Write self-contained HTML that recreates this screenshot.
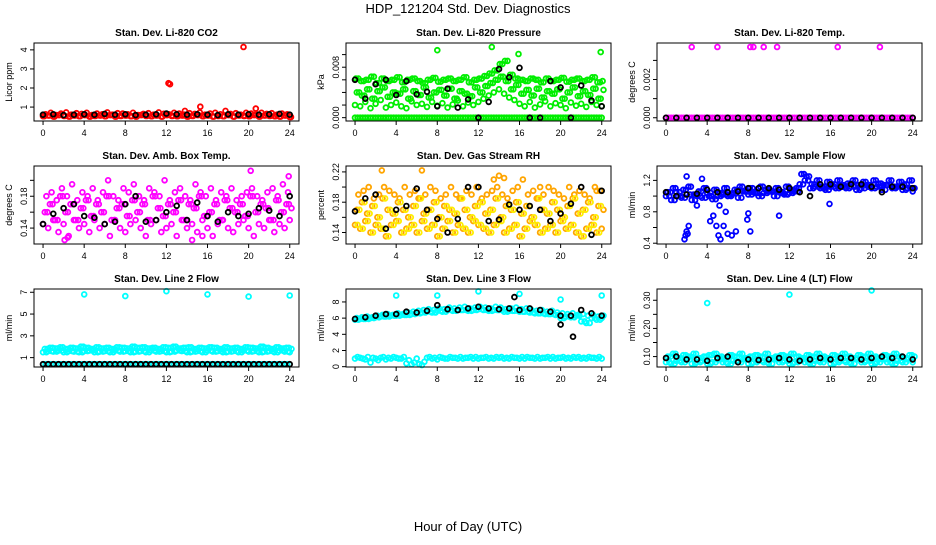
<!DOCTYPE html>
<html><head><meta charset="utf-8">
<style>
html,body{margin:0;padding:0;background:#fff;}
svg text{font-family:"Liberation Sans",sans-serif;}
</style></head>
<body>
<svg id="chart" width="936" height="540" viewBox="0 0 936 540" xmlns="http://www.w3.org/2000/svg">
<text x="468" y="13" text-anchor="middle" font-size="13">HDP_121204  Std. Dev. Diagnostics</text>
<text x="468" y="531" text-anchor="middle" font-size="13">Hour of Day (UTC)</text>
</svg>
<script>
const xTicks=[0,4,8,12,16,20,24];
// CO2
const co2A=[0.62,0.7,0.58,0.66,0.72,0.6,0.68,0.64,0.7,0.58,0.66,0.62,0.72,0.6,0.68,0.66,0.62,0.7,0.58,0.64,0.68,0.6,0.72,0.65,0.62,0.7,0.66,0.6,0.68,0.64,0.72,0.6,0.66,0.7,0.62,0.8,0.64,0.68,0.6,0.7,0.66,0.62,0.7,0.64,0.68,0.6,0.66,0.62,0.58];
const co2B=[0.52,0.56,0.5,0.58,0.54,0.5,0.56,0.52,0.58,0.5,0.54,0.56,0.52,0.58,0.5,0.54,0.56,0.52,0.5,0.58,0.54,0.52,0.56,0.5,0.58,0.54,0.52,0.56,0.5,0.54,0.58,0.52,0.56,0.5,0.54,0.52,0.58,0.5,0.56,0.54,0.52,0.58,0.5,0.56,0.54,0.52,0.5,0.56,0.48];
const co2OutH=[12.2,12.35,15.3,19.5,20.7,13.8];
const co2OutV=[2.25,2.2,1.02,4.15,0.92,0.8];
const co2Black=[0.6,0.62,0.58,0.6,0.62,0.6,0.64,0.6,0.62,0.58,0.6,0.62,0.66,0.62,0.6,0.62,0.6,0.58,0.62,0.6,0.62,0.6,0.62,0.64,0.6];
// Pressure
const presA=[0.0062,0.0058,0.006,0.0065,0.0055,0.0062,0.0058,0.006,0.0064,0.0056,0.006,0.0062,0.0058,0.0055,0.006,0.0063,0.0057,0.006,0.0062,0.0058,0.006,0.0064,0.0056,0.006,0.0062,0.0066,0.007,0.0075,0.0085,0.009,0.0068,0.0062,0.006,0.0058,0.0062,0.006,0.0056,0.0062,0.0058,0.006,0.0063,0.0057,0.006,0.0062,0.0058,0.006,0.0064,0.0056,0.0058];
const presB=[0.004,0.0035,0.0045,0.003,0.0042,0.0048,0.0033,0.004,0.0038,0.0045,0.003,0.0042,0.0036,0.0048,0.0032,0.004,0.0044,0.0035,0.0046,0.003,0.0042,0.0038,0.0034,0.0048,0.004,0.005,0.0055,0.006,0.0065,0.0058,0.0045,0.0052,0.0038,0.0044,0.0035,0.0046,0.0032,0.0042,0.0038,0.0045,0.003,0.004,0.0048,0.0034,0.0042,0.0036,0.0046,0.003,0.0044];
const presC=[0.002,0.0018,0.0025,0.0015,0.0022,0.0028,0.0016,0.002,0.0024,0.0018,0.0015,0.0026,0.002,0.0022,0.0017,0.0025,0.0019,0.0023,0.0016,0.0021,0.0027,0.0018,0.0024,0.002,0.0025,0.003,0.0035,0.004,0.0045,0.0038,0.0032,0.0028,0.0022,0.0018,0.0025,0.0016,0.0021,0.0026,0.0018,0.0023,0.002,0.0015,0.0024,0.0019,0.0022,0.0017,0.0025,0.002,0.0018];
const presZero=[0,0,0,0,0,0,0,0,0,0,0,0,0,0,0,0,0,0,0,0,0,0,0,0,0,0,0,0,0,0,0,0,0,0,0,0,0,0,0,0,0,0,0,0,0,0,0,0,0];
const presOutH=[8,13.3,15.9,23.9];
const presOutV=[0.0107,0.0112,0.0101,0.0104];
const presBlack=[0.006,0.003,0.0053,0.006,0.0036,0.0058,0.0037,0.0041,0.0018,0.0046,0.0016,0.0029,0,0.0025,0.0077,0.0064,0.0079,0,0,0.0058,0.0048,0,0.0051,0.0027,0.0018];
// Temp
const tempZero=[0,0,0,0,0,0,0,0,0,0,0,0,0,0,0,0,0,0,0,0,0,0,0,0,0,0,0,0,0,0,0,0,0,0,0,0,0,0,0,0,0,0,0,0,0,0,0,0,0];
const tempOutH=[2.5,5,8.2,8.5,9.5,10.8,16.7,20.8];
const tempOutV=[0.0037,0.0037,0.0037,0.0037,0.0037,0.0037,0.0037,0.0037];
const tempBlack=[0,0,0,0,0,0,0,0,0,0,0,0,0,0,0,0,0,0,0,0,0,0,0,0,0];
// Amb box temp
const ambA=[0.16,0.17,0.15,0.18,0.16,0.17,0.15,0.165,0.175,0.155,0.17,0.16,0.18,0.15,0.165,0.17,0.155,0.175,0.16,0.17,0.15,0.18,0.165,0.155,0.17,0.16,0.175,0.15,0.17,0.165,0.18,0.155,0.16,0.17,0.15,0.175,0.165,0.16,0.17,0.155,0.18,0.16,0.17,0.165,0.15,0.175,0.16,0.17,0.165];
const ambB=[0.145,0.14,0.15,0.135,0.145,0.13,0.15,0.14,0.145,0.135,0.15,0.14,0.145,0.13,0.15,0.14,0.135,0.145,0.15,0.14,0.13,0.145,0.15,0.135,0.14,0.145,0.13,0.15,0.14,0.145,0.135,0.15,0.14,0.13,0.145,0.15,0.14,0.135,0.145,0.15,0.14,0.13,0.145,0.14,0.15,0.135,0.145,0.14,0.15];
const ambC=[0.18,0.185,0.175,0.19,0.18,0.195,0.175,0.185,0.18,0.19,0.175,0.185,0.2,0.18,0.175,0.19,0.185,0.195,0.18,0.175,0.19,0.185,0.18,0.2,0.175,0.185,0.19,0.18,0.175,0.195,0.185,0.18,0.19,0.175,0.185,0.18,0.19,0.175,0.18,0.185,0.19,0.18,0.175,0.185,0.19,0.18,0.195,0.185,0.2];
const ambOutH=[2.1,2.4,15.5,20.2,14.5,23.9];
const ambOutV=[0.125,0.128,0.13,0.212,0.125,0.205];
const ambBlack=[0.145,0.158,0.165,0.17,0.155,0.153,0.145,0.148,0.17,0.18,0.148,0.15,0.16,0.168,0.15,0.172,0.155,0.148,0.16,0.155,0.158,0.165,0.162,0.155,0.18];
// RH
const rhA=[0.17,0.18,0.165,0.175,0.16,0.185,0.17,0.165,0.18,0.17,0.16,0.175,0.185,0.165,0.17,0.18,0.16,0.175,0.17,0.165,0.185,0.17,0.16,0.175,0.18,0.165,0.17,0.185,0.16,0.175,0.17,0.18,0.165,0.175,0.16,0.185,0.17,0.165,0.18,0.17,0.16,0.175,0.185,0.165,0.17,0.18,0.16,0.175,0.17];
const rhB=[0.15,0.145,0.155,0.14,0.15,0.145,0.135,0.15,0.155,0.14,0.145,0.15,0.14,0.155,0.145,0.15,0.135,0.145,0.155,0.14,0.15,0.145,0.14,0.155,0.15,0.145,0.14,0.15,0.155,0.14,0.145,0.15,0.135,0.145,0.155,0.15,0.14,0.145,0.15,0.14,0.155,0.145,0.15,0.14,0.135,0.145,0.15,0.14,0.145];
const rhC=[0.19,0.195,0.2,0.185,0.19,0.2,0.195,0.19,0.185,0.2,0.19,0.195,0.185,0.19,0.2,0.195,0.185,0.19,0.2,0.19,0.185,0.195,0.19,0.2,0.185,0.19,0.195,0.2,0.19,0.185,0.195,0.2,0.21,0.19,0.195,0.185,0.19,0.2,0.195,0.19,0.185,0.2,0.19,0.195,0.19,0.185,0.2,0.195,0.19];
const rhOutH=[2.6,6.5,13.5,14,14.5,18,23.5];
const rhOutV=[0.222,0.222,0.21,0.215,0.212,0.2,0.195];
const rhBlack=[0.168,0.185,0.19,0.145,0.17,0.175,0.198,0.17,0.158,0.14,0.158,0.2,0.2,0.155,0.157,0.177,0.17,0.175,0.17,0.155,0.165,0.178,0.2,0.137,0.195];
// Sample flow
const flowA=[1.05,1.1,1.0,1.08,1.12,1.02,1.06,1.1,1.0,1.08,1.04,1.1,1.02,1.08,1.12,1.06,1.1,1.04,1.12,1.08,1.06,1.1,1.04,1.12,1.08,1.1,1.28,1.25,1.15,1.2,1.12,1.18,1.15,1.2,1.12,1.16,1.2,1.14,1.18,1.12,1.2,1.16,1.14,1.2,1.12,1.18,1.15,1.2,1.1];
const flowB=[1.0,0.95,1.05,0.98,1.02,0.95,1.0,0.98,1.04,0.96,1.0,1.02,1.0,1.04,0.98,1.06,1.02,1.05,1.0,1.04,1.06,1.0,1.05,1.02,1.04,1.06,1.15,1.2,1.1,1.12,1.1,1.08,1.12,1.1,1.14,1.1,1.12,1.08,1.1,1.14,1.1,1.12,1.08,1.14,1.1,1.12,1.08,1.1,1.06];
const flowOutH=[1.8,1.9,2.0,2.2,2.1,4.3,4.6,4.9,5.1,5.3,5.6,6.0,6.4,6.8,3.0,3.5,7.9,5.8,11,15.9,8.0,8.2,5.2,2.0];
const flowOutV=[0.45,0.5,0.55,0.62,0.52,0.68,0.75,0.62,0.5,0.45,0.62,0.52,0.5,0.55,0.88,1.22,0.7,0.8,0.75,0.9,0.78,0.55,0.88,1.25];
const flowBlack=[1.05,1.0,1.02,1.03,1.08,1.05,1.05,1.06,1.1,1.1,1.1,1.08,1.1,1.05,1.0,1.15,1.15,1.12,1.15,1.15,1.12,1.05,1.12,1.12,1.1];
// Line 2
const l2A=[1.8,1.9,1.85,1.95,1.8,1.9,1.85,2.0,1.9,1.8,1.95,1.85,1.9,1.8,1.95,1.9,1.85,2.0,1.9,1.95,1.85,1.9,1.8,1.95,1.9,2.0,1.85,1.9,1.95,1.8,1.9,1.85,1.95,1.9,1.8,1.95,1.85,1.9,1.8,1.95,1.9,1.85,2.0,1.9,1.8,1.95,1.85,1.9,1.8];
const l2B=[1.5,1.6,1.55,1.65,1.5,1.6,1.55,1.5,1.6,1.65,1.5,1.55,1.6,1.5,1.65,1.55,1.6,1.5,1.55,1.6,1.5,1.65,1.55,1.6,1.5,1.55,1.65,1.6,1.5,1.55,1.6,1.5,1.65,1.55,1.6,1.5,1.55,1.6,1.5,1.65,1.55,1.6,1.5,1.55,1.6,1.5,1.65,1.55,1.5];
const l2Low=[0.4,0.4,0.4,0.4,0.4,0.4,0.4,0.4,0.4,0.4,0.4,0.4,0.4,0.4,0.4,0.4,0.4,0.4,0.4,0.4,0.4,0.4,0.4,0.4,0.4,0.4,0.4,0.4,0.4,0.4,0.4,0.4,0.4,0.4,0.4,0.4,0.4,0.4,0.4,0.4,0.4,0.4,0.4,0.4,0.4,0.4,0.4,0.4,0.4];
const l2OutH=[4,8,12,16,20,24];
const l2OutV=[6.8,6.65,7.1,6.8,6.6,6.7];
const l2Black=[0.4,0.4,0.4,0.4,0.4,0.4,0.4,0.4,0.4,0.4,0.4,0.4,0.4,0.4,0.4,0.4,0.4,0.4,0.4,0.4,0.4,0.4,0.4,0.4,0.4,0.4,0.4,0.4,0.4,0.4,0.4,0.4,0.4,0.4,0.4,0.4,0.4,0.4,0.4,0.4,0.4,0.4,0.4,0.4,0.4,0.4,0.4,0.4,0.4];
// Line 3
const l3A=[6.0,6.1,6.2,6.1,6.3,6.4,6.5,6.4,6.6,6.5,6.7,6.8,6.9,7.0,7.1,7.0,7.2,7.1,7.3,7.2,7.3,7.4,7.2,7.3,7.4,7.3,7.2,7.4,7.3,7.1,7.2,7.3,7.1,7.2,7.0,6.9,7.0,6.8,6.9,6.7,6.6,6.5,6.6,6.4,6.5,6.3,6.4,6.2,6.3];
const l3B=[5.8,5.9,5.9,6.0,6.1,6.2,6.2,6.3,6.3,6.4,6.4,6.5,6.6,6.7,6.8,6.7,6.9,6.8,7.0,6.9,7.0,7.0,6.9,7.0,7.1,7.0,6.9,7.0,7.0,6.8,6.9,6.9,6.8,6.8,6.7,6.6,6.6,6.5,6.5,6.4,6.0,6.2,6.1,6.3,5.6,5.4,6.0,5.8,6.0];
const l3Low=[1.0,1.1,0.9,0.5,1.0,1.1,0.9,1.0,1.1,1.0,0.4,0.3,1.0,0.2,1.1,1.0,0.9,1.1,1.0,1.1,1.0,1.0,1.1,1.0,1.0,1.1,1.0,1.0,1.1,1.0,1.0,1.1,1.0,1.0,1.1,1.0,1.0,1.1,1.0,1.0,1.1,1.0,1.0,1.1,1.0,1.0,1.1,1.0,1.0];
const l3Low2=[1.2,1.0,1.2,1.1,0.8,1.2,1.1,1.2,1.0,1.2,0.8,0.5,0.3,0.6,1.2,1.1,1.2,1.0,1.2,1.1,1.2,1.1,1.2,1.2,1.1,1.2,1.1,1.2,1.2,1.1,1.2,1.1,1.2,1.2,1.1,1.2,1.1,1.2,1.2,1.1,1.2,1.1,1.2,1.2,1.1,1.2,1.1,1.2,1.1];
const l3OutH=[4,8,12,16,20,24];
const l3OutV=[8.8,8.8,9.3,9.0,8.3,8.8];
const l3Black=[5.9,6.1,6.3,6.5,6.5,6.8,6.7,6.9,7.6,7.1,7.0,7.2,7.4,7.2,7.1,7.2,7.0,7.2,7.0,6.8,6.3,6.3,7.0,6.6,6.3];
const l3BlackOutH=[15.5,20,21.2];
const l3BlackOutV=[8.6,5.2,3.7];
// Line 4
const l4A=[0.1,0.11,0.095,0.105,0.1,0.11,0.095,0.1,0.105,0.11,0.1,0.095,0.105,0.1,0.11,0.095,0.1,0.105,0.1,0.11,0.095,0.1,0.105,0.1,0.11,0.1,0.095,0.105,0.1,0.11,0.1,0.095,0.105,0.1,0.11,0.1,0.095,0.105,0.1,0.11,0.1,0.095,0.105,0.1,0.11,0.1,0.095,0.105,0.1];
const l4B=[0.08,0.075,0.085,0.08,0.09,0.075,0.08,0.085,0.075,0.08,0.09,0.08,0.075,0.085,0.08,0.09,0.075,0.08,0.085,0.08,0.075,0.09,0.08,0.085,0.075,0.08,0.09,0.08,0.075,0.085,0.08,0.09,0.075,0.08,0.085,0.08,0.075,0.09,0.08,0.085,0.075,0.08,0.09,0.08,0.075,0.085,0.08,0.09,0.08];
const l4OutH=[4,12,20];
const l4OutV=[0.29,0.32,0.335];
const l4Black=[0.095,0.1,0.09,0.09,0.085,0.095,0.1,0.08,0.09,0.088,0.09,0.095,0.09,0.085,0.09,0.095,0.09,0.095,0.095,0.09,0.095,0.1,0.095,0.1,0.09];

const NS='http://www.w3.org/2000/svg';
const svg=document.getElementById('chart');
function mk(tag,attrs,parent){const e=document.createElementNS(NS,tag);for(const k in attrs)e.setAttribute(k,attrs[k]);(parent||svg).appendChild(e);return e;}

const colL=[34,346,657], rowT=[43,166,289], W=265, H=78;
const XMIN=-0.88, XMAX=24.9;

function panel(id,col,row,title,ylab,ylim,yticks,ylabels,series){
  const L=colL[col],T=rowT[row];
  const g=mk('g',{});
  
  
  const xs=h=>L+(h-XMIN)/(XMAX-XMIN)*W;
  const ys=v=>T+H-(v-ylim[0])/(ylim[1]-ylim[0])*H;
  const t=mk('text',{x:L+W/2,y:T-7,'text-anchor':'middle','font-size':10,'font-weight':'bold'},g);
  t.textContent=title;
  
  
  const yl=mk('text',{x:0,y:0,'text-anchor':'middle','font-size':9,transform:`translate(${L-22},${T+H/2}) rotate(-90)`},g);
  yl.textContent=ylab;
  
  
  const marks=mk('g',{fill:'none','stroke-width':1.8},g);
  
  
  series.forEach(s=>{
    s.v.forEach((v,i)=>{
      const h=s.h?s.h[i]:(i*24/(s.v.length-1)+(s.off||0));
      if(h>24.2)return;
      const c=mk('circle',{cx:xs(h).toFixed(1),cy:ys(v).toFixed(1),r:2.4,stroke:s.c},marks);
      
      
    });
  });
  const box=mk('rect',{x:L,y:T,width:W,height:H,fill:'none',stroke:'#000','stroke-width':1},g);
  
  
  const xa=mk('g',{},g);
  
  
  mk('line',{x1:xs(0),x2:xs(24),y1:T+H,y2:T+H,stroke:'#000'},xa);
  xTicks.forEach(h=>{
    mk('line',{x1:xs(h),x2:xs(h),y1:T+H,y2:T+H+4,stroke:'#000'},xa);
    const tl=mk('text',{x:xs(h),y:T+H+15,'text-anchor':'middle','font-size':9},xa);
    tl.textContent=h;
    
    
  });
  const ya=mk('g',{},g);
  
  
  mk('line',{x1:L,x2:L,y1:ys(yticks[0]),y2:ys(yticks[yticks.length-1]),stroke:'#000'},ya);
  yticks.forEach((v,i)=>{
    mk('line',{x1:L,x2:L-4,y1:ys(v),y2:ys(v),stroke:'#000'},ya);
    if(ylabels[i]){
      const tl=mk('text',{x:0,y:0,'text-anchor':'middle','font-size':9,transform:`translate(${L-7},${ys(v)}) rotate(-90)`},ya);
      tl.textContent=ylabels[i];
      
      
    }
  });
}
const red='#ff0000',grn='#00ee00',mag='#ff00ff',org='#ffa500',yel='#ffee00',blu='#0000ff',cyn='#00ffff',blk='#000';
panel('co2',0,0,'Stan. Dev. Li-820 CO2','Licor ppm',[0.27,4.36],[1,2,3,4],['1','2','3','4'],
 [{v:co2B,c:red},{v:co2A,c:red,off:0.25},{v:co2B,c:red,off:0.12},{h:co2OutH,v:co2OutV,c:red},{v:co2Black,c:blk}]);
panel('pressure',1,0,'Stan. Dev. Li-820 Pressure','kPa',[-0.00053,0.01184],[0,0.002,0.004,0.006,0.008,0.01],['0.000','','','','0.008',''],
 [{v:presZero,c:grn},{v:presZero,c:grn,off:0.25},{v:presC,c:grn},{v:presB,c:grn,off:0.17},{v:presA,c:grn,off:0.33},{v:presB,c:grn,off:0.4},{v:presA,c:grn,off:0.08},{h:presOutH,v:presOutV,c:grn},{v:presBlack,c:blk}]);
panel('li820-temp',2,0,'Stan. Dev. Li-820 Temp.','degrees C',[-0.00017,0.00391],[0,0.001,0.002,0.003],['0.000','','0.002',''],
 [{v:tempZero,c:mag},{v:tempZero,c:mag,off:0.25},{h:tempOutH,v:tempOutV,c:mag},{v:tempBlack,c:blk}]);
panel('amb-box-temp',0,1,'Stan. Dev. Amb. Box Temp.','degrees C',[0.12,0.218],[0.14,0.16,0.18,0.2],['0.14','','0.18',''],
 [{v:ambB,c:mag},{v:ambA,c:mag,off:0.17},{v:ambC,c:mag,off:0.33},{v:ambA,c:mag,off:0.42},{h:ambOutH,v:ambOutV,c:mag},{v:ambBlack,c:blk}]);
panel('gas-stream-rh',1,1,'Stan. Dev. Gas Stream RH','percent',[0.1248,0.2278],[0.14,0.16,0.18,0.2,0.22],['0.14','','0.18','','0.22'],
 [{v:rhB,c:org},{v:rhA,c:org,off:0.17},{v:rhC,c:org,off:0.33},{v:rhA,c:yel,off:0.42},{v:rhB,c:yel,off:0.25},{h:rhOutH,v:rhOutV,c:org},{v:rhBlack,c:blk}]);
panel('sample-flow',2,1,'Stan. Dev. Sample Flow','ml/min',[0.39,1.383],[0.4,0.6,0.8,1.0,1.2],['0.4','','0.8','','1.2'],
 [{v:flowB,c:blu},{v:flowA,c:blu,off:0.17},{v:flowB,c:blu,off:0.33},{v:flowA,c:blu,off:0.42},{h:flowOutH,v:flowOutV,c:blu},{v:flowBlack,c:blk}]);
panel('line2-flow',0,2,'Stan. Dev. Line 2 Flow','ml/min',[0.14,7.3],[1,3,5,7],['1','3','5','7'],
 [{v:l2B,c:cyn},{v:l2A,c:cyn,off:0.17},{v:l2B,c:cyn,off:0.33},{v:l2A,c:cyn,off:0.42},{v:l2Low,c:cyn,off:0.25},{h:l2OutH,v:l2OutV,c:cyn},{v:l2Black,c:blk}]);
panel('line3-flow',1,2,'Stan. Dev. Line 3 Flow','ml/min',[-0.04,9.6],[0,2,4,6,8],['0','2','4','6','8'],
 [{v:l3B,c:cyn},{v:l3A,c:cyn,off:0.17},{v:l3B,c:cyn,off:0.33},{v:l3Low,c:cyn},{v:l3Low2,c:cyn,off:0.25},{h:l3OutH,v:l3OutV,c:cyn},{v:l3Black,c:blk},{h:l3BlackOutH,v:l3BlackOutV,c:blk}]);
panel('line4-flow',2,2,'Stan. Dev. Line 4 (LT) Flow','ml/min',[0.063,0.34],[0.1,0.15,0.2,0.25,0.3],['0.10','','0.20','','0.30'],
 [{v:l4B,c:cyn},{v:l4A,c:cyn,off:0.17},{v:l4B,c:cyn,off:0.33},{v:l4A,c:cyn,off:0.42},{h:l4OutH,v:l4OutV,c:cyn},{v:l4Black,c:blk}]);
</script>
</body></html>
